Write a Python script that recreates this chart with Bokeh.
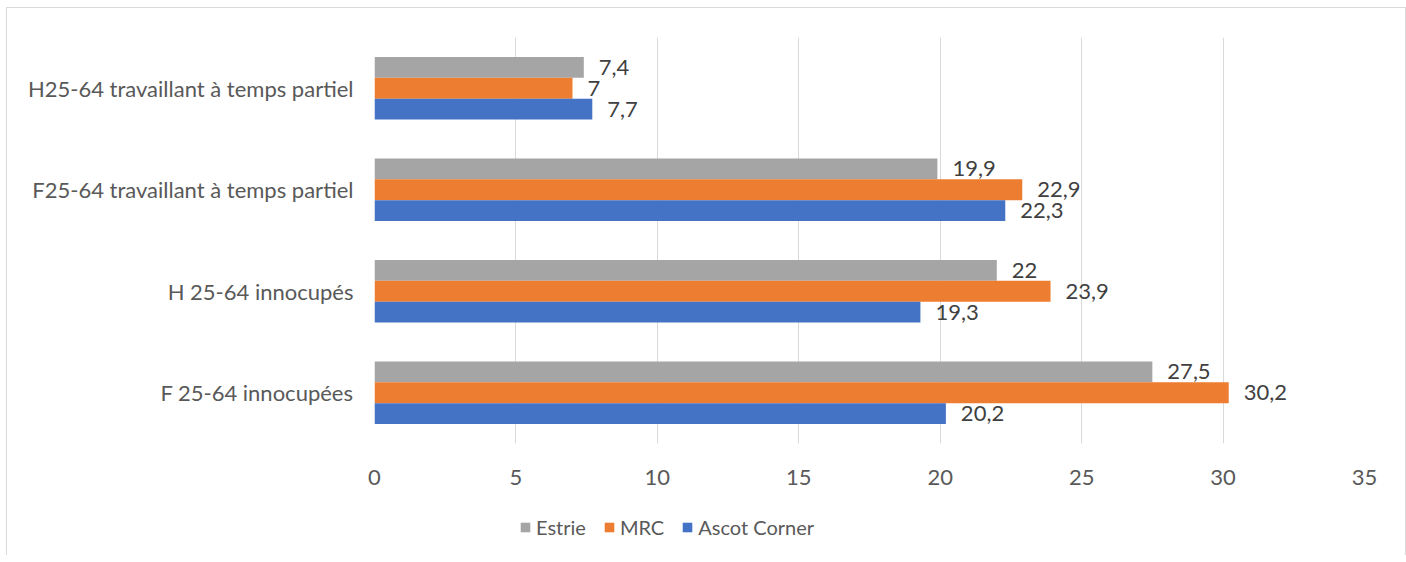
from bokeh.plotting import figure
from bokeh.layouts import column
from bokeh.models import ColumnDataSource, Legend, LegendItem, FixedTicker, Range1d
from bokeh.transform import dodge
from bokeh.core.properties import value
from bokeh.embed import file_html
from bokeh.resources import INLINE

# Data (bottom to top)
categories = ["F 25-64 innocupées", "H 25-64 innocupés",
              "F25-64 travaillant à temps partiel", "H25-64 travaillant à temps partiel"]
estrie = [27.5, 22.0, 19.9, 7.4]
mrc = [30.2, 23.9, 22.9, 7.0]
ascot = [20.2, 19.3, 22.3, 7.7]
series_names = ["Estrie", "MRC", "Ascot Corner"]
series_colors = ["#A5A5A5", "#ED7D31", "#4472C4"]
x_ticks = [0, 5, 10, 15, 20, 25, 30, 35]

FONT = "Lato"
FS = "22px"

def fmt(v):
    return f"{v:g}".replace(".", ",")

src = ColumnDataSource(dict(
    cat=categories, estrie=estrie, mrc=mrc, ascot=ascot,
    l_estrie=[fmt(v) for v in estrie],
    l_mrc=[fmt(v) for v in mrc],
    l_ascot=[fmt(v) for v in ascot],
))

p = figure(y_range=categories, x_range=Range1d(0, 35),
           frame_width=990, frame_height=406,
           min_border_left=367, min_border_right=41,
           min_border_top=29, min_border_bottom=60,
           output_backend="svg", toolbar_location=None)
p.outline_line_color = None
p.background_fill_color = "white"

h = 0.205
offsets = [h, 0.0, -h]
cols = ["estrie", "mrc", "ascot"]
for col, off, color in zip(cols, offsets, series_colors):
    p.hbar(y=dodge("cat", off, range=p.y_range), right=col, left=0, height=h,
           source=src, fill_color=color, line_color=None)
    p.text(x=col, y=dodge("cat", off, range=p.y_range), text="l_" + col, source=src,
           x_offset=15, text_align="left", text_baseline="middle",
           text_font=value(FONT), text_font_size=FS, text_color="#404040")

p.xaxis.ticker = FixedTicker(ticks=x_ticks)
p.xaxis.axis_line_color = None
p.xaxis.major_tick_line_color = None
p.xaxis.minor_tick_line_color = None
p.xaxis.major_label_standoff = 20
p.xaxis.major_label_text_font = FONT
p.xaxis.major_label_text_font_size = FS
p.xaxis.major_label_text_color = "#595959"

p.yaxis.axis_line_color = None
p.yaxis.major_tick_line_color = None
p.yaxis.minor_tick_line_color = None
p.yaxis.major_label_standoff = 15
p.yaxis.major_label_text_font = FONT
p.yaxis.major_label_text_font_size = FS
p.yaxis.major_label_text_color = "#595959"

p.xgrid.grid_line_color = "#d9d9d9"
p.xgrid.grid_line_width = 1
p.ygrid.grid_line_color = None

# Legend strip (zero-width proxy bars carry the legend swatches)
p2 = figure(width=1398, height=52, x_range=Range1d(0, 1), y_range=Range1d(0, 1),
            min_border=0, output_backend="svg", toolbar_location=None)
p2.axis.visible = False
p2.grid.grid_line_color = None
p2.outline_line_color = None
leg_renderers = [p2.hbar(y=[0.5], left=[0], right=[0], height=0.5, fill_color=c, line_color=None)
                 for c in series_colors]
legend = Legend(items=[LegendItem(label=n, renderers=[r]) for n, r in zip(series_names, leg_renderers)],
                orientation="horizontal", location=(145, 16),
                glyph_width=12, glyph_height=12, label_standoff=5, spacing=17,
                padding=0, margin=0, border_line_color=None, background_fill_alpha=0,
                label_text_font=FONT, label_text_font_size="20px", label_text_color="#595959")
p2.add_layout(legend, "center")

layout = column(p, p2, spacing=0)
layout.styles = {"margin-left": "6px", "margin-top": "7px",
                 "border-top": "1px solid #d9d9d9", "border-left": "1px solid #d9d9d9",
                 "border-right": "1px solid #d9d9d9"}

open("out.html", "w").write(file_html(layout, INLINE))
